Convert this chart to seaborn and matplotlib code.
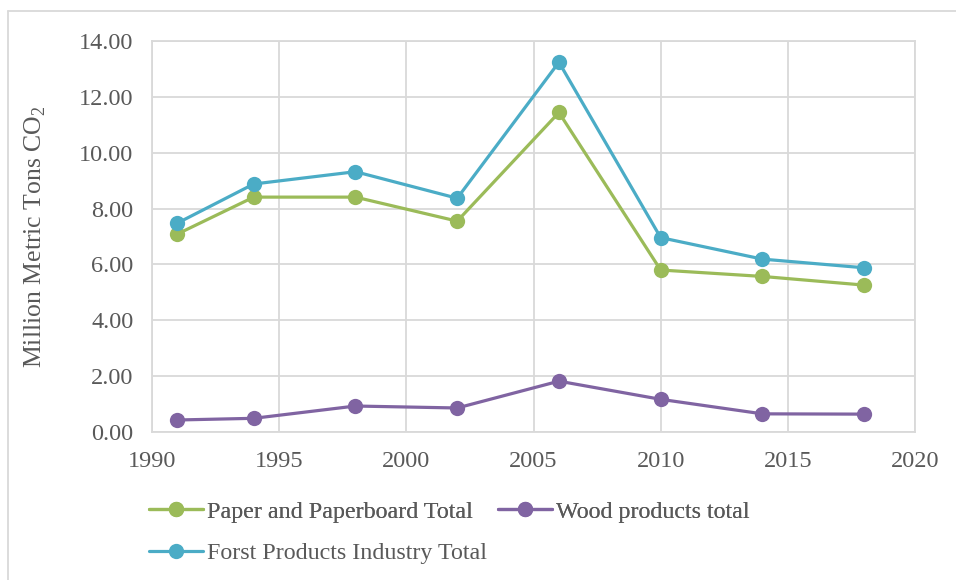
import matplotlib
matplotlib.use("Agg")
import matplotlib.pyplot as plt
from matplotlib.lines import Line2D
import seaborn as sns
import pandas as pd

# Emissions by sector, million metric tons CO2
years = [1991, 1994, 1998, 2002, 2006, 2010, 2014, 2018]
paper = [7.09, 8.41, 8.41, 7.55, 11.44, 5.80, 5.57, 5.26]
wood = [0.43, 0.49, 0.93, 0.86, 1.82, 1.17, 0.65, 0.64]
forest = [7.48, 8.88, 9.32, 8.37, 13.24, 6.96, 6.19, 5.88]

series_names = ["Paper and Paperboard Total", "Wood products total",
                "Forst Products Industry Total"]
series_colors = ["#9BBB59", "#8064A2", "#4BACC6"]
y_ticks = [0, 2, 4, 6, 8, 10, 12, 14]
x_ticks = [1990, 1995, 2000, 2005, 2010, 2015, 2020]

sns.set_theme(style="white")
plt.rcParams["font.family"] = ["Liberation Serif", "DejaVu Serif"]
plt.rcParams["mathtext.fontset"] = "custom"
plt.rcParams["mathtext.rm"] = "Liberation Serif"

text_color = "#595959"
grid_color = "#D9D9D9"

fig = plt.figure(figsize=(9.56, 5.80), dpi=100)
W, H = 956, 580
ax = fig.add_axes([152 / W, 1 - 432 / H, (915 - 152) / W, (432 - 41) / H])

handles = []
for name, vals, col in zip(series_names, (paper, wood, forest), series_colors):
    df = pd.DataFrame({"year": years, "value": vals})
    sns.lineplot(data=df, x="year", y="value", ax=ax, color=col, linewidth=2.3,
                 marker="o", markersize=11, markeredgewidth=0, legend=False)
    handles.append(Line2D([0], [0], color=col, linewidth=2.3, marker="o",
                          markersize=11, markeredgewidth=0, label=name))

ax.set_xlim(1990, 2020)
ax.set_ylim(0, 14)
ax.set_xticks(x_ticks)
ax.set_yticks(y_ticks)
ax.set_yticklabels([f"{v:.2f}" for v in y_ticks])
ax.grid(True, color=grid_color, linewidth=1.3)
ax.set_axisbelow(True)
for sp in ax.spines.values():
    sp.set_color(grid_color)
    sp.set_linewidth(1.3)
ax.tick_params(axis="both", length=0, labelsize=17.5, colors=text_color)
ax.tick_params(axis="y", pad=13.5)
ax.tick_params(axis="x", pad=14)
ax.set_xlabel("")
ax.set_ylabel(r"Million Metric Tons CO$_2$", fontsize=18.5, color=text_color,
              labelpad=22)

# legend: two entries on the first row, one on the second
leg_kw = dict(frameon=False, fontsize=17.3, handlelength=2.25, handletextpad=0.17,
              borderpad=0, borderaxespad=0, labelcolor=text_color,
              bbox_transform=fig.transFigure, loc="center left")
leg1 = fig.legend(handles=[handles[0], handles[1]], ncol=2, columnspacing=1.05,
                  bbox_to_anchor=(149 / W, 1 - 512 / H), **leg_kw)
fig.add_artist(leg1)
fig.legend(handles=[handles[2]], bbox_to_anchor=(149 / W, 1 - 553 / H), **leg_kw)

# outer chart border (top and left edges)
fig.add_artist(Line2D([7.5 / W, 1.0], [1 - 11 / H, 1 - 11 / H],
                      transform=fig.transFigure, color=grid_color, linewidth=1.3))
fig.add_artist(Line2D([7.5 / W, 7.5 / W], [0, 1 - 11 / H],
                      transform=fig.transFigure, color=grid_color, linewidth=1.3))

fig.savefig("out.png", dpi=100, facecolor="white")
